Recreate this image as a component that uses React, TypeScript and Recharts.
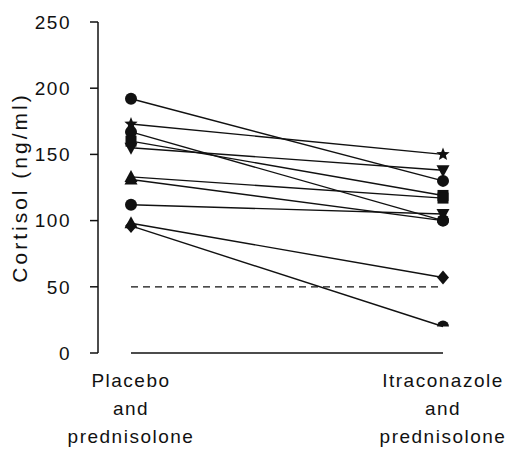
import React from 'react'
import { ComposedChart, Line, XAxis, YAxis, ReferenceLine } from 'recharts'

// cortisol per subject: placebo vs itraconazole (both with prednisolone)
const PLACEBO = [192, 173, 167, 160, 155, 133, 131, 112, 98, 96]
const ITRA = [130, 150, 100, 119, 138, 117, 100, 105, 57, 20]
const LEFT_SHAPES = ['circle', 'star', 'circle', 'square', 'down', 'up', 'up', 'circle', 'up', 'diamond']
const RIGHT_SHAPES = ['circle', 'star', 'circle', 'square', 'down', 'square', 'circle', 'down', 'diamond', 'half']
const Y_TICKS = [0, 50, 100, 150, 200, 250]
const X_LABELS = [
  ['Placebo', 'and', 'prednisolone'],
  ['Itraconazole', 'and', 'prednisolone'],
]

const INK = '#111'
const FONT = '"Liberation Sans", Arial, sans-serif'

const data = [0, 1].map((x) => {
  const row: Record<string, number> = { x }
  PLACEBO.forEach((v, i) => {
    row['s' + i] = x === 0 ? v : ITRA[i]
  })
  return row
})

function Marker({ cx, cy, shape }: { cx: number; cy: number; shape: string }) {
  if (cx == null || cy == null) return null
  const r = 6
  switch (shape) {
    case 'circle':
      return <circle cx={cx} cy={cy} r={r} fill={INK} />
    case 'half':
      return <path d={`M${cx - r},${cy} A${r},${r} 0 0 1 ${cx + r},${cy} Z`} fill={INK} />
    case 'square':
      return <rect x={cx - 5.5} y={cy - 5.5} width={11} height={11} fill={INK} />
    case 'up':
      return <path d={`M${cx},${cy - 7} L${cx + 6.5},${cy + 5} L${cx - 6.5},${cy + 5} Z`} fill={INK} />
    case 'down':
      return <path d={`M${cx},${cy + 7} L${cx + 6.5},${cy - 5} L${cx - 6.5},${cy - 5} Z`} fill={INK} />
    case 'diamond':
      return <path d={`M${cx},${cy - 7} L${cx + 6},${cy} L${cx},${cy + 7} L${cx - 6},${cy} Z`} fill={INK} />
    case 'star': {
      const pts: string[] = []
      for (let k = 0; k < 10; k++) {
        const rad = k % 2 === 0 ? 7 : 3
        const a = -Math.PI / 2 + (k * Math.PI) / 5
        pts.push(`${cx + rad * Math.cos(a)},${cy + rad * Math.sin(a)}`)
      }
      return <polygon points={pts.join(' ')} fill={INK} />
    }
    default:
      return null
  }
}

function XTick({ x, y, payload }: any) {
  const lines = X_LABELS[payload.value] || []
  return (
    <text x={x} y={y} textAnchor="middle" fill={INK} fontSize={19} fontFamily={FONT} letterSpacing={1.5}>
      {lines.map((l, i) => (
        <tspan key={i} x={x} dy={i === 0 ? 26 : 28}>
          {l}
        </tspan>
      ))}
    </text>
  )
}

export default function App() {
  return (
    <div style={{ width: 512, height: 443, background: '#fff' }}>
      <ComposedChart width={512} height={443} data={data} margin={{ top: 14, right: 52, bottom: 0, left: 0 }}>
        <XAxis
          dataKey="x"
          type="number"
          domain={[0, 1]}
          ticks={[0, 1]}
          padding={{ left: 33, right: 25 }}
          axisLine={false}
          tickLine={false}
          height={98}
          tick={<XTick />}
        />
        <YAxis
          domain={[0, 250]}
          ticks={Y_TICKS}
          width={90}
          tickSize={8}
          tickMargin={19}
          axisLine={{ stroke: INK, strokeWidth: 1.5 }}
          tickLine={{ stroke: INK, strokeWidth: 1.5 }}
          tick={{ fill: INK, fontSize: 19, fontFamily: FONT, letterSpacing: 1.5 }}
          label={{
            value: 'Cortisol (ng/ml)',
            angle: -90,
            position: 'insideLeft',
            offset: 12,
            style: { textAnchor: 'middle', fill: INK, fontSize: 21, fontFamily: FONT, letterSpacing: 3 },
          }}
        />
        <ReferenceLine
          segment={[{ x: 0, y: 0 }, { x: 1, y: 0 }]}
          stroke={INK}
          strokeWidth={1.5}
        />
        <ReferenceLine
          segment={[{ x: 0, y: 50 }, { x: 1, y: 50 }]}
          stroke={INK}
          strokeWidth={1.2}
          strokeDasharray="7 5"
        />
        {PLACEBO.map((_, i) => (
          <Line
            key={i}
            dataKey={'s' + i}
            stroke={INK}
            strokeWidth={1.4}
            isAnimationActive={false}
            dot={(p: any) => (
              <Marker
                key={p.key}
                cx={p.cx}
                cy={p.cy}
                shape={p.index === 0 ? LEFT_SHAPES[i] : RIGHT_SHAPES[i]}
              />
            )}
            activeDot={false}
          />
        ))}
      </ComposedChart>
    </div>
  )
}
